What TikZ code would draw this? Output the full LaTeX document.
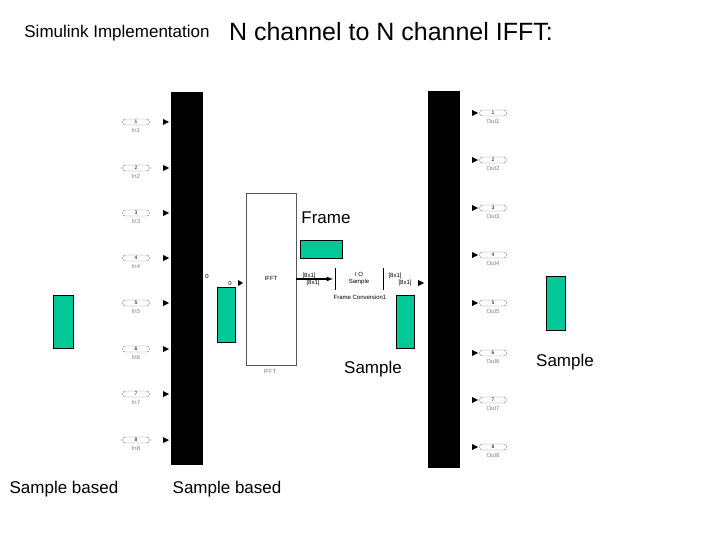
\documentclass[tikz,border=0pt]{standalone}
\usepackage{fontspec}
\setmainfont{Liberation Sans}
\definecolor{grnc}{RGB}{0,200,150}
\begin{document}
\begin{tikzpicture}[x=1pt,y=-1pt,
 bar/.style={fill=black,draw=none},
 grn/.style={fill=grnc,draw=black,line width=0.4pt},
 tiny/.style={font=\fontsize{6}{7}\selectfont,text=gray,inner sep=0pt},
 port/.style={draw=gray,rounded corners=3pt,minimum width=27pt,minimum height=6pt,inner sep=0pt,font=\fontsize{5}{6}\selectfont},
 tri/.style={fill=black,draw=none}]
\useasboundingbox (0,0) rectangle (720,540);
\node (t1) at (117,33) {\fontsize{17}{20}\selectfont Simulink Implementation};
\node (t2) at (391,32) {\fontsize{25}{30}\selectfont N channel to N channel IFFT:};
\fill[bar] (171,92) rectangle (203,465);
\fill[bar] (428,91) rectangle (460,468);
\foreach \i/\y in {1/122,2/168,3/213,4/258,5/303,6/349,7/394,8/440}{
 \node[port] (in\i) at (136,\y) {\i};
 \node[tiny] (inl\i) at (136,\y+8) {In\i};
 \fill[tri] (163,\y-3) -- (169,\y) -- (163,\y+3) -- cycle;
}
\foreach \i/\y in {1/113,2/160,3/208,4/255,5/303,6/353,7/400,8/447}{
 \node[port] (out\i) at (493,\y) {\i};
 \node[tiny] (outl\i) at (493,\y+8) {Out\i};
 \fill[tri] (472,\y-3) -- (478,\y) -- (472,\y+3) -- cycle;
}
\draw[gray!70!black] (246,193) rectangle (296,365);
\node[tiny,text=black] (ifft) at (271,278) {IFFT};
\node[tiny] (ifftl) at (270,371) {IFFT};
\node[tiny,text=black] (z1) at (207,276) {0};
\node[tiny,text=black] (z2) at (230,283) {0};
\fill[tri] (238,280) -- (243,283) -- (238,286) -- cycle;
\draw[grn] (53,295) rectangle (73,348);
\draw[grn] (217,287) rectangle (235,342);
\draw[grn] (300,240) rectangle (342,258);
\draw[grn] (396,295) rectangle (414,348);
\draw[grn] (546,276) rectangle (565,330);
\draw (335,268) -- (335,290);
\draw (383,268) -- (383,290);
\coordinate (fa) at (296,279);
\coordinate (fb) at (333,279);
\draw[very thick,-latex] (fa) -- (fb);
\node[tiny,text=black,align=center] (fc) at (359,279) {I O\\ Sample};
\node[tiny,text=black] (fcl) at (360,297) {Frame Conversion1};
\node[tiny,text=black] (d1) at (309,276) {[8x1]};
\node[tiny,text=black] (d2) at (313,283) {[8x1]};
\node[tiny,text=black] (d3) at (395,276) {[8x1]};
\node[tiny,text=black] (d4) at (405,283) {[8x1]};
\fill[tri] (418,280) -- (424,283) -- (418,286) -- cycle;
\node (fr) at (326,218) {\fontsize{17}{20}\selectfont Frame};
\node (s1) at (373,369) {\fontsize{17}{20}\selectfont Sample};
\node (s2) at (565,362) {\fontsize{17}{20}\selectfont Sample};
\node (sb1) at (64,489) {\fontsize{17}{20}\selectfont Sample based};
\node (sb2) at (227,489) {\fontsize{17}{20}\selectfont Sample based};
\end{tikzpicture}
\end{document}
